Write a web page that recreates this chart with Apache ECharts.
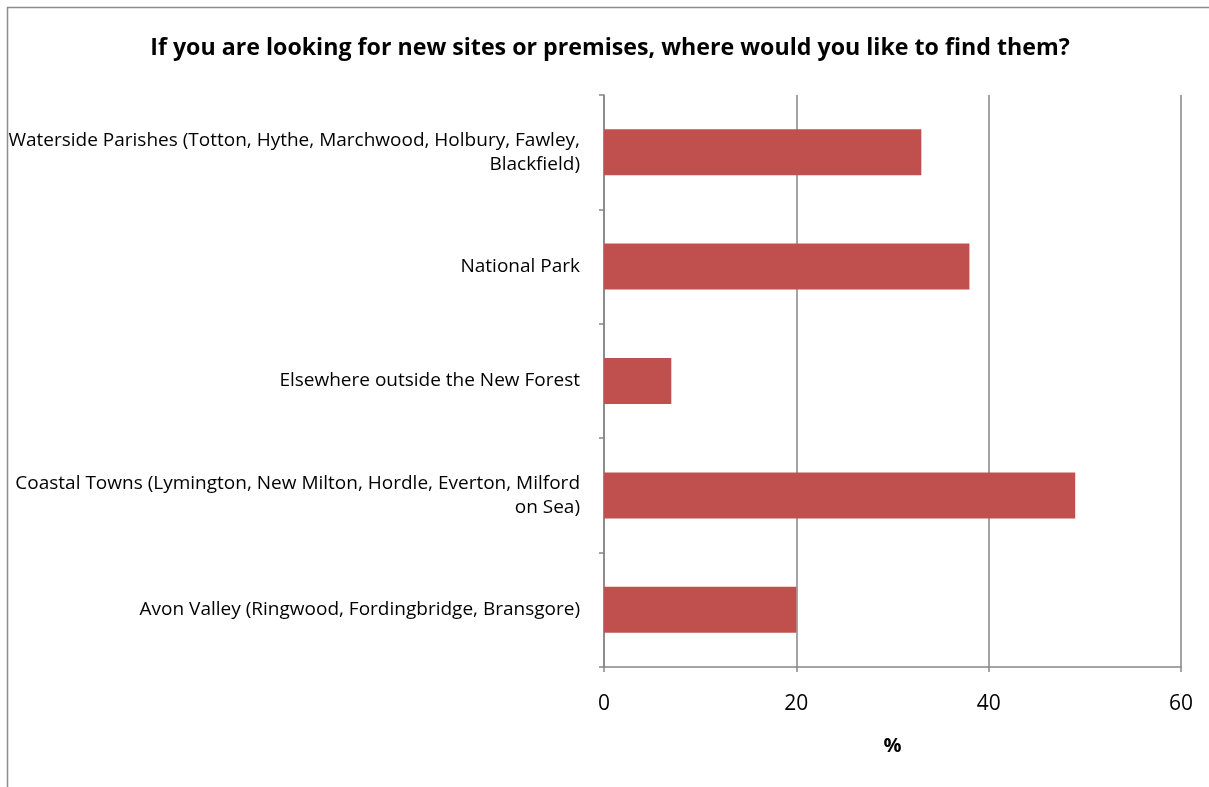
<!DOCTYPE html>
<html>
<head>
<meta charset="utf-8">
<script src="https://cdn.jsdelivr.net/npm/echarts@6/dist/echarts.min.js"></script>
<style>
  html, body { margin: 0; padding: 0; background: #fff; }
  #chart { width: 1209px; height: 787px; }
</style>
</head>
<body>
<div id="chart"></div>
<script>
// Survey answers, listed top to bottom
const categories = [
  'Waterside Parishes (Totton, Hythe, Marchwood, Holbury, Fawley,\nBlackfield)',
  'National Park',
  'Elsewhere outside the New Forest',
  'Coastal Towns (Lymington, New Milton, Hordle, Everton, Milford\non Sea)',
  'Avon Valley (Ringwood, Fordingbridge, Bransgore)'
];
const percentValues = [33, 38, 7, 49, 20];
const xTicks = [0, 20, 40, 60];

const titleText = 'If you are looking for new sites or premises, where would you like to find them?';
const xAxisName = '%';

const FONT = '"Open Sans", "Noto Sans", sans-serif';
const GRID = '#868686';

const chart = echarts.init(document.getElementById('chart'), null, { renderer: 'canvas' });
chart.setOption({
  animation: false,
  backgroundColor: '#ffffff',
  graphic: [{
    type: 'rect',
    shape: { x: 7.5, y: 7.5, width: 1240, height: 820 },
    style: { fill: null, stroke: '#8c8c8c', lineWidth: 1.5 },
    silent: true
  }],
  title: {
    text: titleText,
    left: 605,
    top: 32,
    textAlign: 'center',
    textStyle: { fontFamily: FONT, fontWeight: 'bold', fontSize: 23.2, color: '#000' }
  },
  grid: { left: 604, right: 28, top: 95, bottom: 120, containLabel: false },
  xAxis: {
    type: 'value',
    min: xTicks[0],
    max: xTicks[xTicks.length - 1],
    interval: xTicks[1] - xTicks[0],
    name: xAxisName,
    nameLocation: 'middle',
    nameGap: 69,
    nameTextStyle: { fontFamily: FONT, fontWeight: 'bold', fontSize: 20, color: '#000' },
    axisLine: { show: true, lineStyle: { color: GRID, width: 1.5 } },
    axisTick: { show: true, length: 5, lineStyle: { color: GRID, width: 1.5 } },
    axisLabel: { fontFamily: FONT, fontSize: 21, color: '#000', margin: 27 },
    splitLine: { show: true, lineStyle: { color: GRID, width: 1.5 } }
  },
  yAxis: {
    type: 'category',
    data: categories,
    inverse: true,
    axisLine: { show: true, lineStyle: { color: GRID, width: 1.5 } },
    axisTick: { show: true, length: 5, alignWithLabel: false, lineStyle: { color: GRID, width: 1.5 } },
    axisLabel: {
      fontFamily: FONT, fontSize: 19, color: '#000', margin: 24,
      lineHeight: 24, align: 'right'
    },
    splitLine: { show: false }
  },
  series: [{
    type: 'bar',
    data: percentValues,
    barWidth: 46,
    itemStyle: { color: '#C0504D' }
  }]
});
</script>
</body>
</html>
